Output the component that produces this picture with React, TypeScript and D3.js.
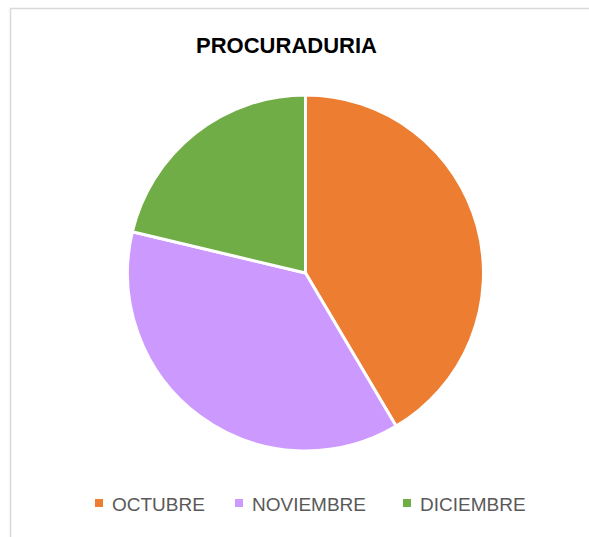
import React from "react";
import * as d3 from "d3";

const categories = ["OCTUBRE", "NOVIEMBRE", "DICIEMBRE"];
const values = [39, 35, 20];
const colors = ["#ED7D31", "#CC99FF", "#70AD47"];
const title = "PROCURADURIA";

export default function App() {
  const W = 589, H = 537;
  const cx = 305.5, cy = 273, r = 178;
  const pie = d3.pie<number>().sort(null).value((d) => d)(values);
  const arc = d3.arc<d3.PieArcDatum<number>>().innerRadius(0).outerRadius(r);
  const legendX = [95, 235, 403];
  return (
    <svg width={W} height={H} style={{ position: "absolute", left: 0, top: 0 }}>
      <rect x={0} y={0} width={W} height={H} fill="#fff" />
      <rect x={10.5} y={8.5} width={W + 30} height={H + 30} fill="#fff" stroke="#d9d9d9" strokeWidth={1.5} />
      <text x={286.5} y={53} textAnchor="middle" fontFamily="Liberation Sans, Arial, sans-serif" fontWeight="bold" fontSize={22} fill="#000">
        {title}
      </text>
      <g transform={`translate(${cx},${cy})`}>
        {pie.map((p, i) => (
          <path key={categories[i]} d={arc(p) || ""} fill={colors[i]} stroke="#fff" strokeWidth={3} strokeLinejoin="round" />
        ))}
      </g>
      {categories.map((c, i) => (
        <g key={c}>
          <rect x={legendX[i]} y={499} width={8} height={8} fill={colors[i]} />
          <text x={legendX[i] + 17} y={511} fontFamily="Liberation Sans, Arial, sans-serif" fontSize={19} fill="#595959">
            {c}
          </text>
        </g>
      ))}
    </svg>
  );
}
